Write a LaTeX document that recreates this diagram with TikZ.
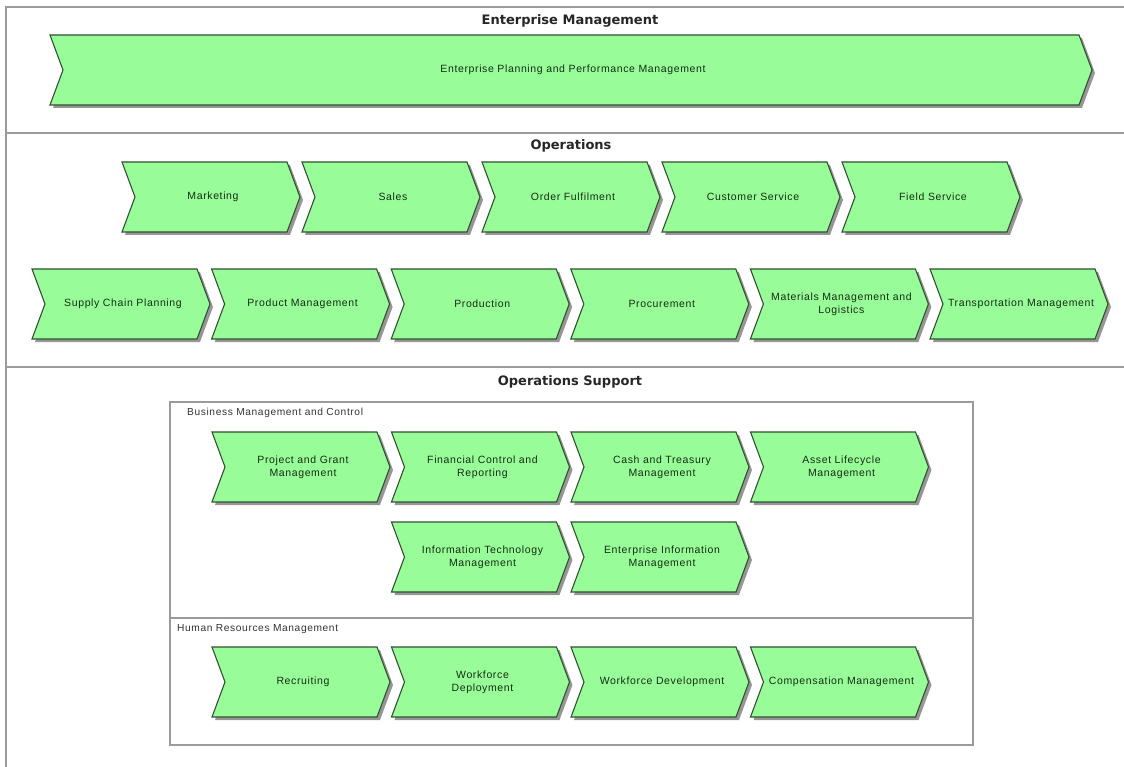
\documentclass[tikz,border=0pt]{standalone}
\usepackage{fontspec}
\setmainfont{Liberation Sans}
\newfontfamily\labfont{Liberation Sans}[LetterSpace=6]
\newfontfamily\ttlfont{DejaVu Sans}
\definecolor{chfill}{RGB}{152,252,152}
\definecolor{chdraw}{RGB}{50,80,50}
\definecolor{chshadow}{RGB}{150,150,150}
\definecolor{framegray}{RGB}{155,155,155}
\definecolor{chtext}{RGB}{20,45,20}
\tikzset{
  chevbody/.style={fill=chfill, draw=chdraw, line width=1.1pt, line join=miter},
  chevshadow/.style={fill=chshadow},
  chlabel/.style={font=\labfont\fontsize{10.5}{13}\selectfont, text=chtext, align=center, inner sep=0pt},
  sectitle/.style={font=\ttlfont\bfseries\fontsize{13}{15}\selectfont, text=black!85, inner sep=0pt},
  sublabel/.style={font=\labfont\fontsize{10.2}{12}\selectfont, text=black!80, anchor=west, inner sep=0pt},
  sectionline/.style={draw=framegray, line width=1.8pt},
  boxline/.style={draw=framegray, line width=1.3pt}
}
% name, left, top, width, height, depth, text
\newcommand\chevron[7]{%
  \fill[chevshadow] ({#2+3},{#3+3}) -- ({#2+#4-#6+3},{#3+3}) -- ({#2+#4+3},{#3+#5/2+3}) -- ({#2+#4-#6+3},{#3+#5+3}) -- ({#2+3},{#3+#5+3}) -- ({#2+#6+3},{#3+#5/2+3}) -- cycle;
  \path[chevbody] (#2,#3) -- ({#2+#4-#6},#3) -- ({#2+#4},{#3+#5/2}) -- ({#2+#4-#6},{#3+#5}) -- (#2,{#3+#5}) -- ({#2+#6},{#3+#5/2}) -- cycle;
  \node[chlabel] (#1) at ({#2+#4/2+2},{#3+#5/2}) {#7};%
}
\newcommand\chv[4]{\chevron{#1}{#2}{#3}{178}{70}{13}{#4}}
\begin{document}
\begin{tikzpicture}[x=1pt,y=-1pt]
\useasboundingbox (0,0) rectangle (1124,767);
% outer frame
\draw[sectionline] (1124,7) -- (6,7) -- (6,767);
\draw[sectionline] (6,133) -- (1124,133);
\draw[sectionline] (6,367) -- (1124,367);
% titles
\node[sectitle] (tEM) at (570,21) {Enterprise Management};
\node[sectitle] (tOP) at (571,146) {Operations};
\node[sectitle] (tOS) at (570,382) {Operations Support};
% Enterprise Management
\chevron{epm}{50}{35}{1042}{70}{13}{Enterprise Planning and Performance Management}
% Operations row 1
\chv{mkt}{122}{162}{Marketing}
\chv{sal}{302}{162}{Sales}
\chv{ofu}{482}{162}{Order Fulfilment}
\chv{csv}{662}{162}{Customer Service}
\chv{fsv}{842}{162}{Field Service}
% Operations row 2
\chv{scp}{32}{269}{Supply Chain Planning}
\chv{pmg}{211.6}{269}{Product Management}
\chv{prd}{391.2}{269}{Production}
\chv{prc}{570.8}{269}{Procurement}
\chv{mml}{750.4}{269}{Materials Management and\\Logistics}
\chv{trm}{930}{269}{Transportation Management}
% Operations Support boxes
\draw[boxline] (170,402) rectangle (973,618);
\draw[boxline] (170,618) rectangle (973,745);
\node[sublabel] (lBMC) at (187,413) {Business Management and Control};
\node[sublabel] (lHRM) at (177,629) {Human Resources Management};
% Business Management and Control
\chv{pgm}{212}{432}{Project and Grant\\Management}
\chv{fcr}{391.5}{432}{Financial Control and\\Reporting}
\chv{ctm}{571}{432}{Cash and Treasury\\Management}
\chv{alm}{750.5}{432}{Asset Lifecycle\\Management}
\chv{itm}{391.5}{522}{Information Technology\\Management}
\chv{eim}{571}{522}{Enterprise Information\\Management}
% Human Resources
\chv{rec}{212}{647}{Recruiting}
\chv{wdp}{391.5}{647}{Workforce\\Deployment}
\chv{wdv}{571}{647}{Workforce Development}
\chv{cmp}{750.5}{647}{Compensation Management}
\end{tikzpicture}
\end{document}
